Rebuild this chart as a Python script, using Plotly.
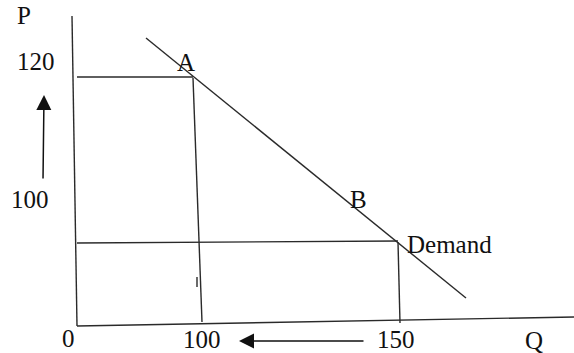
import plotly.graph_objects as go

# Diagram coordinates (origin of the Q-P axes at (0, 0); units approx. pixels)
p_axis_x = [-5, 0]
p_axis_y = [310, 0]
q_axis_x = [0, 497]
q_axis_y = [0, 9]

demand_x = [69, 389]
demand_y = [288, 28]

high_price_x = [0, 116]
high_price_y = [249, 249]
qty_100_x = [116, 125]
qty_100_y = [248, 4]

low_price_x = [0, 321]
low_price_y = [83, 85]
qty_150_x = [321, 323]
qty_150_y = [84, 3]

tick_x = [120, 120]
tick_y = [49, 39]

up_arrow = dict(tail=(-34, 146), tip=(-33, 231))
left_arrow = dict(tail=(288, -15), tip=(162, -15))

labels = ["P", "120", "A", "100", "B", "Demand", "0", "100", "150", "Q"]
label_x = [-53, -41, 109, -47, 281, 328, -9, 125, 319, 457]
label_y = [311, 265, 264, 127, 127, 82, -12, -13, -13, -14]
label_anchor = ["center", "center", "center", "center", "center", "left",
                "center", "center", "center", "center"]

line_color = "#2a2a2a"
line_style = dict(color=line_color, width=1.4)
serif = "'Liberation Serif', 'Times New Roman', 'DejaVu Serif', serif"

fig = go.Figure()
segments = [
    (p_axis_x, p_axis_y), (q_axis_x, q_axis_y), (demand_x, demand_y),
    (high_price_x, high_price_y), (qty_100_x, qty_100_y),
    (low_price_x, low_price_y), (qty_150_x, qty_150_y), (tick_x, tick_y),
]
for xs, ys in segments:
    fig.add_trace(go.Scatter(x=xs, y=ys, mode="lines", line=line_style,
                             hoverinfo="skip", showlegend=False))

for arr in (up_arrow, left_arrow):
    fig.add_annotation(x=arr["tip"][0], y=arr["tip"][1],
                       ax=arr["tail"][0], ay=arr["tail"][1],
                       xref="x", yref="y", axref="x", ayref="y",
                       text="", showarrow=True, arrowhead=2,
                       arrowsize=2.0, arrowwidth=1.5, arrowcolor="#111")

for t, x, y, a in zip(labels, label_x, label_y, label_anchor):
    fig.add_annotation(x=x, y=y, xref="x", yref="y", text=t, showarrow=False,
                       xanchor=a, yanchor="middle",
                       font=dict(family=serif, size=25, color="#111"))

fig.update_layout(
    width=574, height=353,
    margin=dict(l=0, r=0, t=0, b=0),
    paper_bgcolor="white", plot_bgcolor="white",
    font=dict(family=serif),
    xaxis=dict(range=[-77, 497], visible=False, fixedrange=True),
    yaxis=dict(range=[-27, 326], visible=False, fixedrange=True),
    showlegend=False,
)

fig.write_html("out.html", config={"displayModeBar": False},
               post_script="document.body.style.margin='0';")
